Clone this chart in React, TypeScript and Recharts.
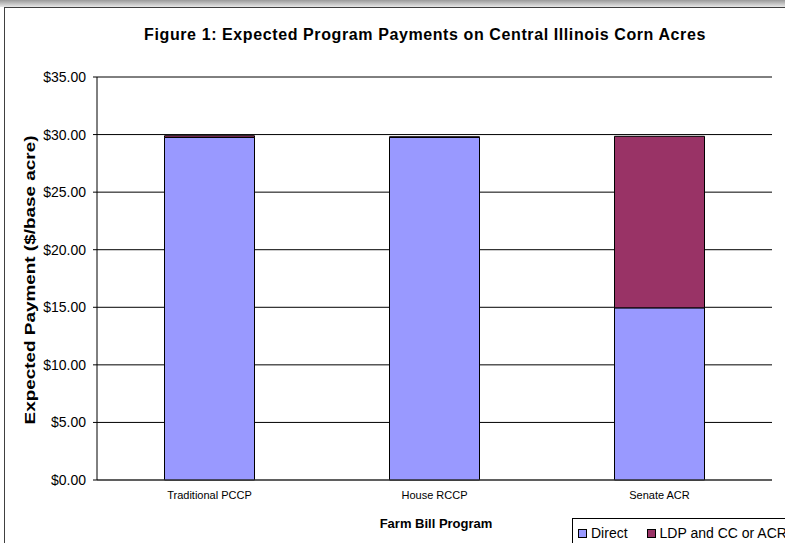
import React from "react";
import {
  BarChart,
  Bar,
  XAxis,
  YAxis,
  CartesianGrid,
  Legend,
} from "recharts";

const programs = ["Traditional PCCP", "House RCCP", "Senate ACR"];
const directPay = [29.75, 29.75, 14.95];
const ldpCcAcr = [0.15, 0.06, 14.9];
const yTicks = [0, 5, 10, 15, 20, 25, 30, 35];

const seriesNames = ["Direct", "LDP and CC or ACR"];
const seriesColors = ["#9999FF", "#993366"];

const data = programs.map((p, i) => ({
  name: p,
  direct: directPay[i],
  ldp: ldpCcAcr[i],
}));

const FONT = '"Liberation Sans", Arial, Helvetica, sans-serif';

function LegendBox() {
  return (
    <div
      style={{
        border: "1px solid #000",
        borderRight: "none",
        borderBottom: "none",
        background: "#fff",
        width: 220,
        height: 30,
        display: "flex",
        alignItems: "flex-start",
        paddingTop: 6,
        paddingLeft: 5,
        boxSizing: "border-box",
        fontFamily: FONT,
        fontSize: 14,
        color: "#000",
        whiteSpace: "nowrap",
      }}
    >
      {seriesNames.map((n, i) => (
        <span
          key={n}
          style={{ display: "inline-flex", alignItems: "center", marginRight: 19 }}
        >
          <span
            style={{
              display: "inline-block",
              width: 7,
              height: 7,
              background: seriesColors[i],
              border: "1px solid #000",
              marginRight: 4,
            }}
          />
          {n}
        </span>
      ))}
    </div>
  );
}

export default function App() {
  return (
    <div
      style={{
        position: "absolute",
        left: 0,
        top: 0,
        width: 785,
        height: 543,
        overflow: "hidden",
        background: "#fff",
        fontFamily: FONT,
      }}
    >
      {/* grey strip above the chart frame */}
      <div
        style={{
          position: "absolute",
          left: 0,
          top: 0,
          width: 785,
          height: 7,
          background: "linear-gradient(#9a9a9a, #e8e8e8)",
        }}
      />
      {/* chart frame */}
      <div
        style={{
          position: "absolute",
          left: 4,
          top: 7,
          width: 800,
          height: 560,
          border: "1px solid #404040",
          boxSizing: "border-box",
        }}
      />
      <div
        style={{
          position: "absolute",
          left: 425,
          top: 35,
          transform: "translate(-50%, -50%)",
          whiteSpace: "nowrap",
          fontWeight: "bold",
          fontSize: 16,
          letterSpacing: 0.6,
          color: "#000",
        }}
      >
        Figure 1: Expected Program Payments on Central Illinois Corn Acres
      </div>
      <div
        style={{
          position: "absolute",
          left: 30,
          top: 280,
          transform: "translate(-50%, -50%) rotate(-90deg) scaleX(1.35)",
          whiteSpace: "nowrap",
          fontWeight: "bold",
          fontSize: 14,
          color: "#000",
        }}
      >
        Expected Payment ($/base acre)
      </div>
      <div
        style={{
          position: "absolute",
          left: 436,
          top: 523,
          transform: "translate(-50%, -50%)",
          whiteSpace: "nowrap",
          fontWeight: "bold",
          fontSize: 13,
          color: "#000",
        }}
      >
        Farm Bill Program
      </div>
      <div style={{ position: "absolute", left: 0, top: 0 }}>
        <BarChart
          width={785}
          height={543}
          data={data}
          margin={{ top: 77, right: 13, bottom: 33, left: 0 }}
          barCategoryGap="30%"
        >
          <CartesianGrid vertical={false} stroke="#000" />
          <XAxis
            dataKey="name"
            height={30}
            tickLine={false}
            tickSize={6}
            tickMargin={5}
            axisLine={{ stroke: "#404040" }}
            tick={{ fontSize: 11, fill: "#000", fontFamily: FONT }}
          />
          <XAxis
            xAxisId="top"
            orientation="top"
            dataKey="name"
            height={0}
            tick={false}
            tickLine={false}
            axisLine={{ stroke: "#808080" }}
          />
          <YAxis
            width={97}
            domain={[0, 35]}
            ticks={yTicks}
            interval={0}
            tickSize={4}
            tickMargin={7}
            tickFormatter={(v: number) => `$${v.toFixed(2)}`}
            axisLine={{ stroke: "#000" }}
            tickLine={{ stroke: "#000" }}
            tick={{ fontSize: 14, fill: "#000", fontFamily: FONT }}
          />
          <YAxis
            yAxisId="right"
            orientation="right"
            width={0}
            domain={[0, 35]}
            ticks={yTicks}
            tick={false}
            tickLine={false}
            axisLine={{ stroke: "#808080" }}
          />
          <Legend
            layout="horizontal"
            verticalAlign="middle"
            align="center"
            content={() => <LegendBox />}
            wrapperStyle={{ position: "absolute", left: 572, top: 518, width: 220 }}
          />
          <Bar
            dataKey="direct"
            name={seriesNames[0]}
            stackId="a"
            fill={seriesColors[0]}
            stroke="#000"
            strokeWidth={1}
            isAnimationActive={false}
          />
          <Bar
            dataKey="ldp"
            name={seriesNames[1]}
            stackId="a"
            fill={seriesColors[1]}
            stroke="#000"
            strokeWidth={1}
            isAnimationActive={false}
          />
        </BarChart>
      </div>
    </div>
  );
}
